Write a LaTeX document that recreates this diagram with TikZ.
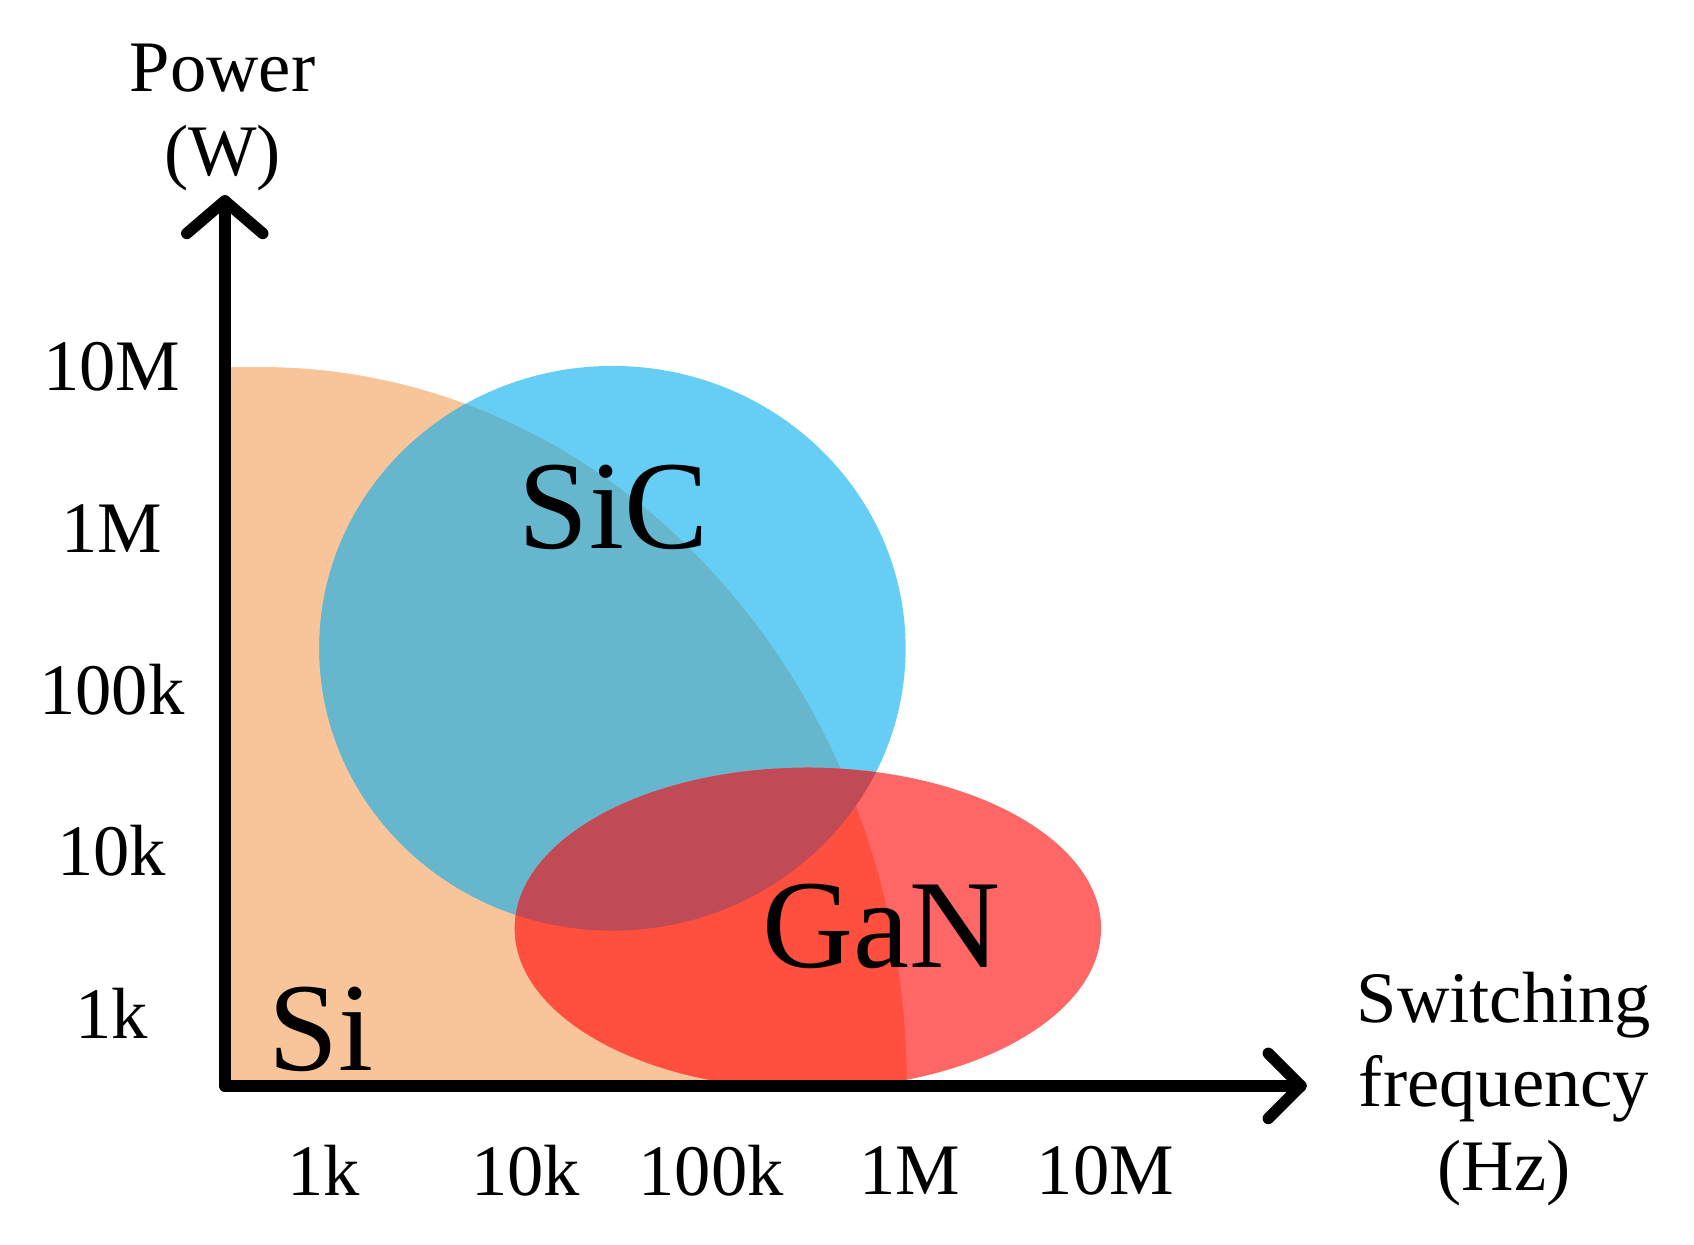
\documentclass[tikz,border=0pt]{standalone}
\usepackage{fontspec}
\setmainfont{Liberation Serif}
\usetikzlibrary{positioning}
\definecolor{siorange}{HTML}{F8C49A}
\definecolor{sicblue}{HTML}{66CEF4}
\definecolor{ganred}{HTML}{FF6666}
\definecolor{sicsi}{HTML}{66B6CD}
\definecolor{gansi}{HTML}{FF4F3F}
\definecolor{gansic}{HTML}{C04A55}
\newcommand{\sipath}{(207,-1000) -- (207,-338) -- (240,-338) arc[start angle=90,end angle=0,x radius=595,y radius=662] -- cycle}
\newcommand{\sicpath}{(564,-597) ellipse[x radius=270,y radius=260]}
\newcommand{\ganpath}{(744,-855) ellipse[x radius=270,y radius=148]}
\begin{document}
\begin{tikzpicture}[x=0.01cm,y=0.01cm,
    tick/.style={font=\fontsize{19}{22}\selectfont},
    mat/.style={font=\fontsize{33}{38}\selectfont},
    axis/.style={line width=3pt,line cap=round,line join=round}]
    \useasboundingbox (0,0) rectangle (1560,-1146);
    % regions
    \fill[siorange] \sipath;
    \fill[sicblue] \sicpath;
    \begin{scope}
        \clip \sipath;
        \fill[sicsi] \sicpath;
    \end{scope}
    \fill[ganred] \ganpath;
    \begin{scope}
        \clip \ganpath;
        \fill[gansi] \sipath;
        \fill[gansic] \sicpath;
    \end{scope}
    % axes
    \coordinate (O) at (207,-1000);
    \coordinate (ytip) at (207,-185);
    \coordinate (xtip) at (1198,-1000);
    \draw[axis] (O) -- (ytip);
    \draw[axis] (O) -- (xtip);
    \draw[axis] (172,-215) -- (ytip) -- (242,-215);
    \draw[axis] (1168,-970) -- (xtip) -- (1168,-1030);
    % labels
    \node[tick,align=center] (ylab) at (205,-108) {Power\\(W)};
    \node[tick,align=center] (xlab) at (1385,-1003) {Switching\\frequency\\(Hz)};
    \foreach \y/\t in {338/10M, 487/1M, 635/100k, 783/10k, 933/1k}
        \node[tick] (y\t) at (103,-\y) {\t};
    \foreach \x/\t in {298/1k, 484/10k, 655/100k, 838/1M, 1018/10M}
        \node[tick] (x\t) at (\x,-1078) {\t};
    \node[mat] (si) at (296,-948) {Si};
    \node[mat] (sic) at (565,-467) {SiC};
    \node[mat] (gan) at (812,-853) {GaN};
\end{tikzpicture}
\end{document}
